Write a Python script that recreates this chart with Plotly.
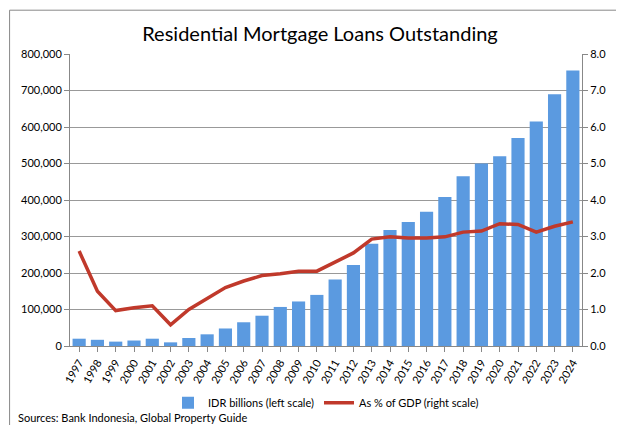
import plotly.graph_objects as go

years = [str(y) for y in range(1997, 2025)]
loans = [20000,17000,12000,15000,20000,10000,22000,32000,48000,65000,83000,107000,122000,140000,
         182000,222000,280000,318000,340000,368000,408000,465000,500000,520000,570000,615000,690000,755000]
gdp_pct = [2.6,1.5,0.97,1.05,1.1,0.58,1.0,1.3,1.6,1.78,1.93,1.98,2.05,2.05,2.3,2.55,2.93,2.99,2.96,
           2.96,2.99,3.12,3.15,3.35,3.33,3.12,3.28,3.4]
left_ticks = [0,100000,200000,300000,400000,500000,600000,700000,800000]
right_ticks = [0,1,2,3,4,5,6,7,8]

fig = go.Figure()
fig.add_trace(go.Bar(x=years, y=loans, name="IDR billions (left scale)",
                     marker=dict(color="#5b9ae0", line=dict(width=0)), width=0.72))
fig.add_trace(go.Scatter(x=years, y=gdp_pct, name="As % of GDP (right scale)", yaxis="y2",
                         mode="lines", line=dict(color="#c0392b", width=3.5)))
font = "Lato, Liberation Sans, sans-serif"
fig.update_layout(
    width=624, height=425, paper_bgcolor="white", plot_bgcolor="white",
    font=dict(family=font, size=12, color="black"),
    title=dict(text="Residential Mortgage Loans Outstanding", x=0.5, xanchor="center", y=0.955,
               font=dict(size=20, family=font)),
    margin=dict(l=62, r=50, t=46, b=87),
    xaxis=dict(tickangle=-60, showline=True, linecolor="#888", ticks="outside", tickcolor="#888",
               tickfont=dict(size=11)),
    yaxis=dict(range=[0,800000], tickvals=left_ticks, tickformat=",d", showgrid=True,
               gridcolor="#999", showline=True, linecolor="#888", ticks="outside", tickcolor="#888",
               tickfont=dict(size=11)),
    yaxis2=dict(range=[0,8], tickvals=right_ticks, tickformat=".1f", overlaying="y", side="right",
                showgrid=False, showline=True, linecolor="#888", ticks="outside", tickcolor="#888",
                tickfont=dict(size=11)),
    legend=dict(orientation="h", x=0.5, xanchor="center", y=-0.145, yanchor="top",
                font=dict(size=11)),
    bargap=0.28, showlegend=True,
    annotations=[dict(text="Sources: Bank Indonesia, Global Property Guide", xref="paper", yref="paper",
                      x=-0.105, y=-0.215, xanchor="left", yanchor="top", showarrow=False,
                      font=dict(size=11))],
    shapes=[dict(type="rect", xref="paper", yref="paper", x0=-0.118, x1=1.094, y0=-0.288, y1=1.15,
                 line=dict(color="#888", width=1))]
)
fig.write_html("out.html")
